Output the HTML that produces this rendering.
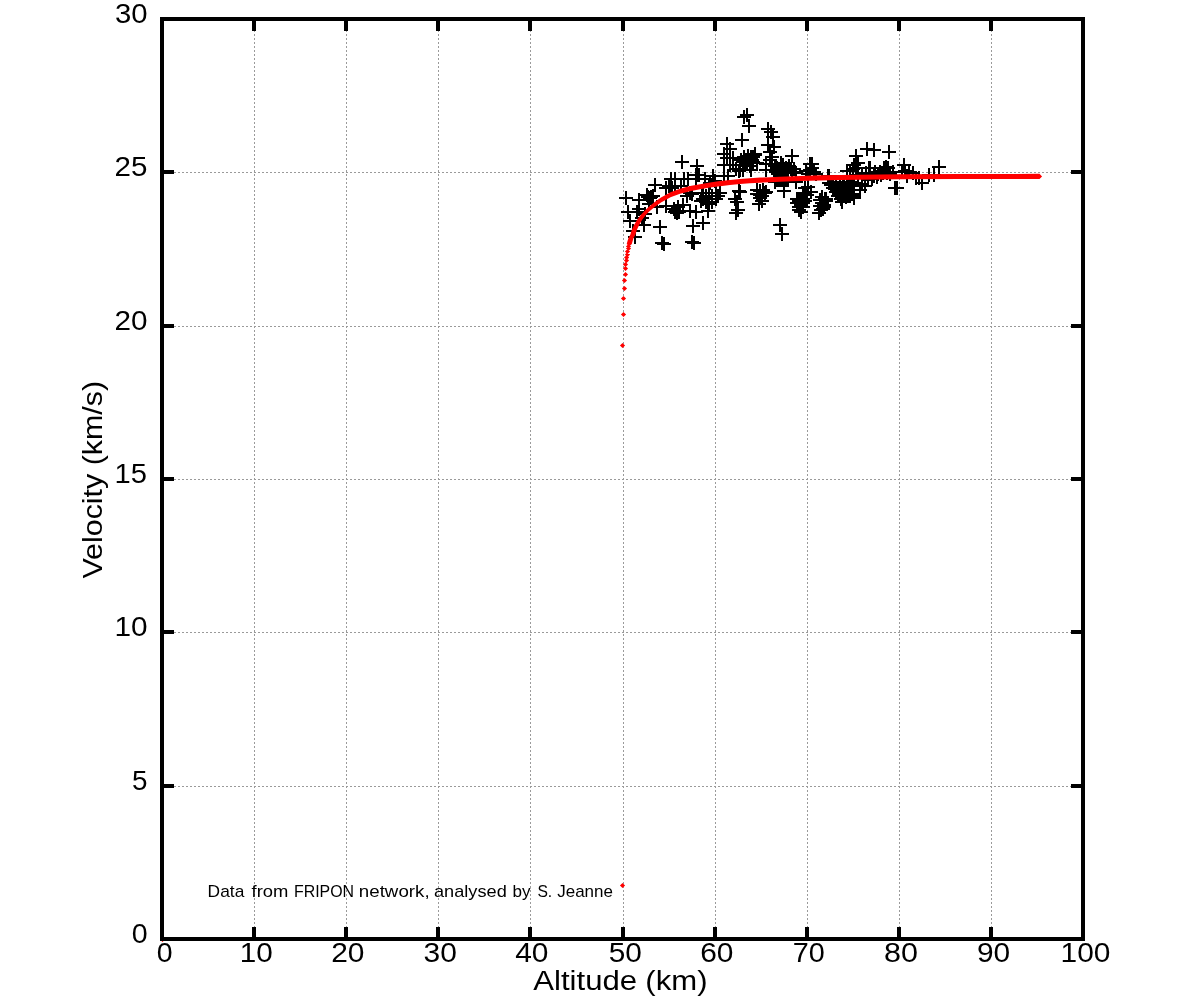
<!DOCTYPE html>
<html><head><meta charset="utf-8"><title>Velocity vs Altitude</title>
<style>html,body{margin:0;padding:0;background:#fff;width:1200px;height:1000px;overflow:hidden}svg{display:block;position:absolute;left:0;top:0;will-change:transform}text{font-family:"Liberation Sans",sans-serif;fill:#000}</style></head><body>
<svg width="1200" height="1000" viewBox="0 0 1200 1000">
<rect x="0" y="0" width="1200" height="1000" fill="#fff"/>
<path d="M254.5 22V937M346.5 22V937M438.5 22V937M530.5 22V937M623.5 22V937M715.5 22V937M807.5 22V937M899.5 22V937M991.5 22V937" stroke="#9a9a9a" stroke-width="1" stroke-dasharray="2 2" fill="none" shape-rendering="crispEdges"/>
<path d="M162 786.5H1081M162 632.5H1081M162 479.5H1081M162 326.5H1081M162 172.5H1081" stroke="#9a9a9a" stroke-width="1" stroke-dasharray="2 2" fill="none" shape-rendering="crispEdges"/>
<path d="M619 198h14M626 191v14M648 185h14M655 178v14M632 200h14M639 193v14M640 195h14M647 188v14M646 196h14M653 189v14M641 197h14M648 190v14M643 198h14M650 191v14M644 197h14M651 190v14M621 212h14M628 205v14M630 212h14M637 205v14M632 209h14M639 202v14M623 221h14M630 214v14M637 225h14M644 218v14M635 218h14M642 211v14M638 214h14M645 207v14M626 231h14M633 224v14M628 237h14M635 230v14M653 227h14M660 220v14M655 243h14M662 236v14M657 244h14M664 237v14M686 226h14M693 219v14M685 242h14M692 235v14M687 243h14M694 236v14M696 223h14M703 216v14M664 179h14M671 172v14M668 179h14M675 172v14M677 179h14M684 172v14M681 179h14M688 172v14M659 188h14M666 181v14M662 186h14M669 179v14M668 186h14M675 179v14M674 186h14M681 179v14M663 187h14M670 180v14M665 188h14M672 181v14M689 175h14M696 168v14M691 175h14M698 168v14M692 175h14M699 168v14M689 179h14M696 172v14M675 162h14M682 155v14M690 166h14M697 159v14M650 207h14M657 200v14M659 206h14M666 199v14M668 212h14M675 205v14M669 211h14M676 204v14M671 207h14M678 200v14M676 205h14M683 198v14M670 213h14M677 206v14M672 212h14M679 205v14M667 209h14M674 202v14M683 211h14M690 204v14M689 212h14M696 205v14M683 193h14M690 186v14M680 196h14M687 189v14M685 194h14M692 187v14M642 204h14M649 197v14M694 201h14M701 194v14M695 193h14M702 186v14M699 198h14M706 191v14M701 211h14M708 204v14M696 193h14M703 186v14M702 193h14M709 186v14M709 193h14M716 186v14M713 193h14M720 186v14M699 196h14M706 189v14M705 196h14M712 189v14M711 196h14M718 189v14M696 199h14M703 192v14M702 199h14M709 192v14M709 199h14M716 192v14M699 202h14M706 195v14M705 202h14M712 195v14M702 204h14M709 197v14M706 176h14M713 169v14M708 181h14M715 174v14M698 179h14M705 172v14M703 183h14M710 176v14M733 192h14M740 185v14M728 199h14M735 192v14M730 202h14M737 195v14M731 210h14M738 203v14M729 213h14M736 206v14M732 191h14M739 184v14M752 204h14M759 197v14M755 201h14M762 194v14M753 198h14M760 191v14M755 196h14M762 189v14M750 190h14M757 183v14M753 191h14M760 184v14M756 190h14M763 183v14M759 192h14M766 185v14M758 193h14M765 186v14M750 194h14M757 187v14M753 195h14M760 188v14M768 182h14M775 175v14M770 180h14M777 173v14M772 180h14M779 173v14M774 180h14M781 173v14M776 180h14M783 173v14M778 180h14M785 173v14M780 180h14M787 173v14M781 180h14M788 173v14M789 182h14M796 175v14M773 225h14M780 218v14M775 234h14M782 227v14M777 191h14M784 184v14M740 115h14M747 108v14M737 117h14M744 110v14M742 126h14M749 119v14M735 140h14M742 133v14M761 129h14M768 122v14M764 132h14M771 125v14M766 137h14M773 130v14M761 145h14M768 138v14M767 147h14M774 140v14M763 152h14M770 145v14M765 157h14M772 150v14M763 160h14M770 153v14M759 164h14M766 157v14M759 170h14M766 163v14M720 144h14M727 137v14M723 149h14M730 142v14M717 154h14M724 147v14M720 158h14M727 151v14M717 165h14M724 158v14M723 158h14M730 151v14M726 158h14M733 151v14M723 165h14M730 158v14M726 165h14M733 158v14M729 169h14M736 162v14M733 170h14M740 163v14M732 171h14M739 164v14M736 170h14M743 163v14M734 160h14M741 153v14M717 176h14M724 169v14M721 176h14M728 169v14M737 157h14M744 150v14M741 156h14M748 149v14M744 157h14M751 150v14M748 154h14M755 147v14M748 155h14M755 148v14M746 157h14M753 150v14M739 160h14M746 153v14M742 160h14M749 153v14M745 160h14M752 153v14M740 163h14M747 156v14M743 163h14M750 156v14M746 162h14M753 155v14M738 165h14M745 158v14M743 166h14M750 159v14M741 158h14M748 151v14M732 171h14M739 164v14M744 170h14M751 163v14M750 163h14M757 156v14M736 162h14M743 155v14M768 166h14M775 159v14M770 168h14M777 161v14M772 170h14M779 163v14M769 172h14M776 165v14M771 174h14M778 167v14M773 172h14M780 165v14M767 170h14M774 163v14M774 163h14M781 156v14M776 165h14M783 158v14M785 156h14M792 149v14M782 166h14M789 159v14M779 168h14M786 161v14M784 169h14M791 162v14M787 169h14M794 162v14M777 170h14M784 163v14M781 172h14M788 165v14M785 172h14M792 165v14M789 173h14M796 166v14M803 164h14M810 157v14M805 164h14M812 157v14M799 171h14M806 164v14M803 170h14M810 163v14M807 172h14M814 165v14M805 168h14M812 161v14M801 174h14M808 167v14M809 174h14M816 167v14M821 176h14M828 169v14M822 176h14M829 169v14M840 171h14M847 164v14M843 171h14M850 164v14M847 165h14M854 158v14M849 156h14M856 149v14M851 163h14M858 156v14M846 169h14M853 162v14M849 168h14M856 161v14M790 199h14M797 192v14M790 203h14M797 196v14M792 201h14M799 194v14M792 207h14M799 200v14M792 210h14M799 203v14M794 212h14M801 205v14M794 205h14M801 198v14M796 203h14M803 196v14M794 199h14M801 192v14M796 207h14M803 200v14M796 199h14M803 192v14M798 201h14M805 194v14M798 188h14M805 181v14M801 187h14M808 180v14M796 193h14M803 186v14M800 195h14M807 188v14M804 192h14M811 185v14M819 201h14M826 194v14M817 205h14M824 198v14M817 207h14M824 200v14M816 209h14M823 202v14M814 210h14M821 203v14M812 213h14M819 206v14M815 203h14M822 196v14M813 206h14M820 199v14M818 199h14M825 192v14M815 197h14M822 190v14M813 200h14M820 193v14M819 199h14M826 192v14M826 188h14M833 181v14M829 192h14M836 185v14M831 196h14M838 189v14M834 199h14M841 192v14M835 202h14M842 195v14M847 198h14M854 191v14M829 186h14M836 179v14M833 186h14M840 179v14M837 186h14M844 179v14M841 186h14M848 179v14M845 186h14M852 179v14M831 190h14M838 183v14M835 190h14M842 183v14M839 190h14M846 183v14M843 190h14M850 183v14M847 190h14M854 183v14M833 194h14M840 187v14M837 194h14M844 187v14M841 194h14M848 187v14M845 194h14M852 187v14M835 198h14M842 191v14M839 197h14M846 190v14M843 196h14M850 189v14M847 196h14M854 189v14M846 194h14M853 187v14M822 183h14M829 176v14M824 185h14M831 178v14M826 184h14M833 177v14M829 182h14M836 175v14M836 182h14M843 175v14M843 182h14M850 175v14M833 183h14M840 176v14M840 183h14M847 176v14M847 183h14M854 176v14M858 186h14M865 179v14M853 190h14M860 183v14M865 179h14M872 172v14M870 177h14M877 170v14M874 175h14M881 168v14M861 180h14M868 173v14M855 184h14M862 177v14M863 168h14M870 161v14M868 172h14M875 165v14M862 168h14M869 161v14M877 168h14M884 161v14M879 167h14M886 160v14M881 168h14M888 161v14M886 172h14M893 165v14M873 172h14M880 165v14M871 174h14M878 167v14M876 173h14M883 166v14M880 173h14M887 166v14M883 174h14M890 167v14M859 173h14M866 166v14M855 174h14M862 167v14M851 175h14M858 168v14M863 174h14M870 167v14M867 176h14M874 169v14M888 188h14M895 181v14M890 188h14M897 181v14M897 165h14M904 158v14M898 171h14M905 164v14M895 172h14M902 165v14M900 176h14M907 169v14M902 172h14M909 165v14M906 173h14M913 166v14M909 178h14M916 171v14M912 178h14M919 171v14M915 183h14M922 176v14M922 175h14M929 168v14M927 175h14M934 168v14M932 167h14M939 160v14M860 149h14M867 142v14M867 150h14M874 143v14M882 152h14M889 145v14" stroke="#000" stroke-width="2" fill="none" shape-rendering="crispEdges"/>
<path d="M159.95 939.40L162.50 936.85L165.05 939.40L162.50 941.95ZM619.95 885.50L622.50 882.95L625.05 885.50L622.50 888.05ZM619.95 345.50L622.50 342.95L625.05 345.50L622.50 348.05ZM620.95 314.50L623.50 311.95L626.05 314.50L623.50 317.05ZM620.95 298.50L623.50 295.95L626.05 298.50L623.50 301.05ZM621.95 288.50L624.50 285.95L627.05 288.50L624.50 291.05ZM621.95 280.50L624.50 277.95L627.05 280.50L624.50 283.05ZM622.95 274.50L625.50 271.95L628.05 274.50L625.50 277.05ZM622.95 268.50L625.50 265.95L628.05 268.50L625.50 271.05ZM622.95 264.50L625.50 261.95L628.05 264.50L625.50 267.05ZM623.95 260.50L626.50 257.95L629.05 260.50L626.50 263.05ZM624.05 257.50L626.60 254.95L629.15 257.50L626.60 260.05ZM624.95 254.50L627.50 251.95L630.05 254.50L627.50 257.05ZM624.95 251.50L627.50 248.95L630.05 251.50L627.50 254.05ZM625.95 248.50L628.50 245.95L631.05 248.50L628.50 251.05ZM625.95 246.50L628.50 243.95L631.05 246.50L628.50 249.05ZM626.70 244.00L629.25 241.45L631.80 244.00L629.25 246.55ZM626.70 244.00L627.55 241.00L630.10 238.45L632.65 241.00L631.80 244.00L629.25 246.55ZM627.55 241.00L628.65 237.50L631.20 234.95L633.75 237.50L632.65 241.00L630.10 243.55ZM628.65 237.50L630.20 235.00L632.75 232.45L635.30 235.00L633.75 237.50L631.20 240.05ZM630.20 235.00L631.70 230.00L634.25 227.45L636.80 230.00L635.30 235.00L632.75 237.55ZM631.70 230.00L634.05 225.00L636.60 222.45L639.15 225.00L636.80 230.00L634.25 232.55ZM634.05 225.00L636.95 220.00L639.50 217.45L642.05 220.00L639.15 225.00L636.60 227.55ZM636.95 220.00L640.70 215.00L643.25 212.45L645.80 215.00L642.05 220.00L639.50 222.55ZM640.70 215.00L645.45 210.00L648.00 207.45L650.55 210.00L645.80 215.00L643.25 217.55ZM645.45 210.00L648.00 207.45L654.00 202.45L656.55 205.00L654.00 207.55L648.00 212.55ZM651.45 205.00L654.00 202.45L661.00 197.45L663.55 200.00L661.00 202.55L654.00 207.55ZM658.45 200.00L661.00 197.45L670.50 192.15L673.05 194.70L670.50 197.25L661.00 202.55ZM667.95 194.70L670.50 192.15L680.00 188.65L682.55 191.20L680.00 193.75L670.50 197.25ZM677.45 191.20L680.00 188.65L690.00 186.05L692.55 188.60L690.00 191.15L680.00 193.75ZM687.45 188.60L690.00 186.05L700.00 184.25L702.55 186.80L700.00 189.35L690.00 191.15ZM697.45 186.80L700.00 184.25L710.00 182.45L712.55 185.00L710.00 187.55L700.00 189.35ZM707.45 185.00L710.00 182.45L720.00 181.05L722.55 183.60L720.00 186.15L710.00 187.55ZM717.45 183.60L720.00 181.05L730.00 179.95L732.55 182.50L730.00 185.05L720.00 186.15ZM727.45 182.50L730.00 179.95L740.00 178.95L742.55 181.50L740.00 184.05L730.00 185.05ZM737.45 181.50L740.00 178.95L750.00 178.15L752.55 180.70L750.00 183.25L740.00 184.05ZM747.45 180.70L750.00 178.15L760.00 177.55L762.55 180.10L760.00 182.65L750.00 183.25ZM757.45 180.10L760.00 177.55L770.00 177.15L772.55 179.70L770.00 182.25L760.00 182.65ZM767.45 179.70L770.00 177.15L780.00 176.75L782.55 179.30L780.00 181.85L770.00 182.25ZM777.45 179.30L780.00 176.75L800.00 175.95L802.55 178.50L800.00 181.05L780.00 181.85ZM797.45 178.50L800.00 175.95L820.00 175.35L822.55 177.90L820.00 180.45L800.00 181.05ZM817.45 177.90L820.00 175.35L840.00 174.95L842.55 177.50L840.00 180.05L820.00 180.45ZM837.45 177.50L840.00 174.95L860.00 174.65L862.55 177.20L860.00 179.75L840.00 180.05ZM857.45 177.20L860.00 174.65L900.00 174.25L902.55 176.80L900.00 179.35L860.00 179.75ZM897.45 176.80L900.00 174.25L960.00 173.95L962.55 176.50L960.00 179.05L900.00 179.35ZM957.45 176.50L960.00 173.95L1039.50 173.85L1042.05 176.40L1039.50 178.95L960.00 179.05Z" fill="#f00" stroke="none" fill-rule="nonzero"/>
<path d="M254 939V927M254 19V31M346 939V927M346 19V31M438 939V927M438 19V31M530 939V927M530 19V31M623 939V927M623 19V31M715 939V927M715 19V31M807 939V927M807 19V31M899 939V927M899 19V31M991 939V927M991 19V31M162 786H174M1083 786H1071M162 632H174M1083 632H1071M162 479H174M1083 479H1071M162 326H174M1083 326H1071M162 172H174M1083 172H1071" stroke="#000" stroke-width="4" fill="none" shape-rendering="crispEdges"/>
<rect x="162" y="19" width="921" height="920" fill="none" stroke="#000" stroke-width="4" shape-rendering="crispEdges"/>
<text x="114.93" y="23.00" font-size="28.26" textLength="32.61" lengthAdjust="spacingAndGlyphs">30</text>
<text x="114.56" y="176.00" font-size="28.26" textLength="32.88" lengthAdjust="spacingAndGlyphs">25</text>
<text x="114.56" y="330.00" font-size="28.26" textLength="33.00" lengthAdjust="spacingAndGlyphs">20</text>
<text x="114.48" y="483.00" font-size="28.26" textLength="32.45" lengthAdjust="spacingAndGlyphs">15</text>
<text x="114.43" y="636.00" font-size="28.26" textLength="33.13" lengthAdjust="spacingAndGlyphs">10</text>
<text x="131.89" y="790.00" font-size="28.26" textLength="15.48" lengthAdjust="spacingAndGlyphs">5</text>
<text x="131.68" y="942.60" font-size="28.26" textLength="15.88" lengthAdjust="spacingAndGlyphs">0</text>
<text x="156.69" y="962.30" font-size="28.26" textLength="15.82" lengthAdjust="spacingAndGlyphs">0</text>
<text x="239.74" y="962.30" font-size="28.26" textLength="33.02" lengthAdjust="spacingAndGlyphs">10</text>
<text x="331.20" y="962.30" font-size="28.26" textLength="33.27" lengthAdjust="spacingAndGlyphs">20</text>
<text x="423.56" y="962.30" font-size="28.26" textLength="33.31" lengthAdjust="spacingAndGlyphs">30</text>
<text x="515.21" y="962.30" font-size="28.26" textLength="33.25" lengthAdjust="spacingAndGlyphs">40</text>
<text x="608.71" y="962.30" font-size="28.26" textLength="33.16" lengthAdjust="spacingAndGlyphs">50</text>
<text x="700.18" y="962.30" font-size="28.26" textLength="33.29" lengthAdjust="spacingAndGlyphs">60</text>
<text x="792.83" y="962.30" font-size="28.26" textLength="32.00" lengthAdjust="spacingAndGlyphs">70</text>
<text x="883.97" y="962.30" font-size="28.26" textLength="33.92" lengthAdjust="spacingAndGlyphs">80</text>
<text x="976.90" y="962.30" font-size="28.26" textLength="33.22" lengthAdjust="spacingAndGlyphs">90</text>
<text x="1060.52" y="962.30" font-size="28.26" textLength="49.84" lengthAdjust="spacingAndGlyphs">100</text>
<text x="533.24" y="989.60" font-size="28.26" textLength="103.84" lengthAdjust="spacingAndGlyphs">Altitude</text>
<text x="645.37" y="989.60" font-size="28.26" textLength="62.16" lengthAdjust="spacingAndGlyphs">(km)</text>
<text transform="translate(102.0 578.7) rotate(-90)" x="0.17" y="0" font-size="28.26" textLength="197.70" lengthAdjust="spacingAndGlyphs">Velocity (km/s)</text>
<text x="207.63" y="897.00" font-size="16.95" textLength="36.67" lengthAdjust="spacingAndGlyphs">Data</text>
<text x="251.64" y="897.00" font-size="16.95" textLength="36.77" lengthAdjust="spacingAndGlyphs">from</text>
<text x="293.99" y="897.00" font-size="16.95" textLength="60.10" lengthAdjust="spacingAndGlyphs">FRIPON</text>
<text x="358.86" y="897.00" font-size="16.95" textLength="70.72" lengthAdjust="spacingAndGlyphs">network,</text>
<text x="434.03" y="897.00" font-size="16.95" textLength="72.74" lengthAdjust="spacingAndGlyphs">analysed</text>
<text x="512.50" y="897.00" font-size="16.95" textLength="18.03" lengthAdjust="spacingAndGlyphs">by</text>
<text x="537.39" y="897.00" font-size="16.95" textLength="14.85" lengthAdjust="spacingAndGlyphs">S.</text>
<text x="557.23" y="897.00" font-size="16.95" textLength="55.72" lengthAdjust="spacingAndGlyphs">Jeanne</text>
</svg></body></html>
